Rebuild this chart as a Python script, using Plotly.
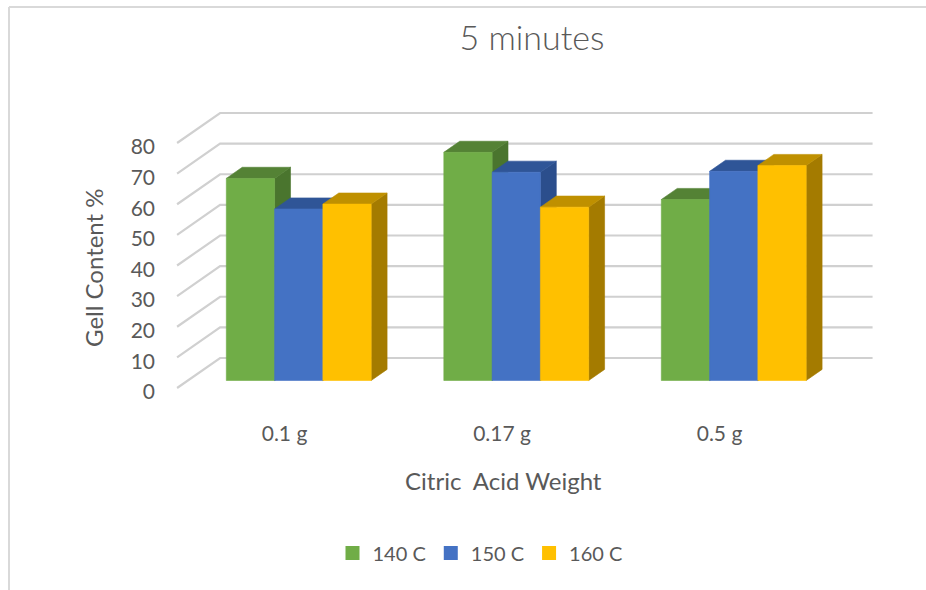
import plotly.graph_objects as go

# ---------------- data ----------------
categories = ["0.1 g", "0.17 g", "0.5 g"]
series_names = ["140 C", "150 C", "160 C"]
gel_140 = [66.0, 74.5, 59.1]
gel_150 = [56.0, 68.0, 68.3]
gel_160 = [57.6, 56.6, 70.2]
y_ticks = [0, 10, 20, 30, 40, 50, 60, 70, 80]

front_colors = ["#70AD47", "#4472C4", "#FFC000"]
top_colors = ["#548235", "#2F5597", "#BF9000"]
side_colors = ["#4A752E", "#2B4E8C", "#A47B00"]
TEXT = "#595959"
FONT = "Lato"

# ---------------- layout geometry ----------------
W, H = 926, 590
ML, MR, MT, MB = 156, 30, 100, 180
X_PX0, X_PX_PER = 288.0, 217.5      # pixel of x=0, pixels per category
Y_PX0, Y_PX_PER = 388.0, 3.0625     # pixel of y=0, pixels per unit
xmin = (ML - X_PX0) / X_PX_PER
xmax = (W - MR - X_PX0) / X_PX_PER
ymax = (Y_PX0 - MT) / Y_PX_PER
ymin = (Y_PX0 - (H - MB)) / Y_PX_PER
PW, PH = W - ML - MR, H - MT - MB


def px_to_paper(px, py):
    return (px - ML) / PW, ((H - MB) - py) / PH


# oblique depth projection (per unit of depth)
DX = 43 / X_PX_PER
DY = 30 / Y_PX_PER
F1, F2 = 0.25, 0.62          # bar front / back depth
BW = 0.222                   # bar width in category units
X_LEFT, X_RIGHT = -0.51, 2.49
LABEL_SHIFT = -0.016         # category labels sit at the front edge

fig = go.Figure()

# walls / gridlines
gx, gy = [], []
for t in y_ticks:
    gx += [X_LEFT, X_LEFT + DX, X_RIGHT + DX, None]
    gy += [t, t + DY, t + DY, None]
fig.add_trace(go.Scatter(x=gx, y=gy, mode="lines",
                         line=dict(color="#D0D0D0", width=2.2),
                         hoverinfo="skip", showlegend=False))


def poly(xs, ys, color):
    fig.add_trace(go.Scatter(x=xs + [xs[0]], y=ys + [ys[0]], fill="toself",
                             fillcolor=color, mode="lines",
                             line=dict(color=color, width=0.6),
                             hoverinfo="skip", showlegend=False))


values = [gel_140, gel_150, gel_160]
d = F2 - F1
for i in range(len(categories)):
    for s in range(len(series_names)):
        v = values[s][i]
        xc = i + (s - 1) * BW
        x0 = xc - BW / 2 + F1 * DX
        x1 = xc + BW / 2 + F1 * DX
        b = F1 * DY
        t = b + v
        # side face
        poly([x1, x1 + d * DX, x1 + d * DX, x1],
             [b, b + d * DY, t + d * DY, t], side_colors[s])
        # top face
        poly([x0, x1, x1 + d * DX, x0 + d * DX],
             [t, t, t + d * DY, t + d * DY], top_colors[s])
        # front face
        poly([x0, x1, x1, x0], [b, b, t, t], front_colors[s])

# legend entries
for s, name in enumerate(series_names):
    fig.add_trace(go.Scatter(x=[None], y=[None], mode="markers", name=name,
                             marker=dict(symbol="square", size=14,
                                         color=front_colors[s])))

ax_title_y = px_to_paper(93, 268)
ax_title_x = px_to_paper(503.5, 480)
c_tl = px_to_paper(9, 7)
c_tr = px_to_paper(W + 10, 7)
c_bl = px_to_paper(9, H + 10)

fig.update_layout(
    width=W, height=H,
    margin=dict(l=ML, r=MR, t=MT, b=MB, pad=0),
    paper_bgcolor="white", plot_bgcolor="rgba(0,0,0,0)",
    font=dict(family=FONT, color=TEXT, size=20),
    title=dict(text="5 minutes", xref="container", yref="container",
               x=532 / W, y=1 - 38 / H, xanchor="center", yanchor="middle",
               font=dict(family=FONT, size=34, color=TEXT, weight=300)),
    xaxis=dict(range=[xmin, xmax], tickmode="array",
               tickvals=[k + LABEL_SHIFT for k in range(len(categories))],
               ticktext=categories, showgrid=False, zeroline=False,
               showline=False, ticks="", automargin=False,
               tickfont=dict(size=21, color=TEXT), ticklabelstandoff=9,
               fixedrange=True),
    yaxis=dict(range=[ymin, ymax], tickmode="array", tickvals=y_ticks,
               showgrid=False, zeroline=False, showline=False, ticks="",
               automargin=False, tickfont=dict(size=21, color=TEXT),
               ticklabelshift=4, fixedrange=True),
    legend=dict(orientation="h", xref="container", yref="container",
                x=480 / W, y=1 - 553 / H, xanchor="center", yanchor="middle",
                font=dict(size=20, color=TEXT), itemwidth=30,
                bgcolor="rgba(0,0,0,0)"),
    annotations=[
        dict(text="Gell Content %", xref="paper", yref="paper",
             x=ax_title_y[0], y=ax_title_y[1], showarrow=False, textangle=-90,
             xanchor="center", yanchor="middle",
             font=dict(size=24, color=TEXT, family=FONT)),
        dict(text="Citric\u00a0 Acid Weight", xref="paper", yref="paper",
             x=ax_title_x[0], y=ax_title_x[1], showarrow=False,
             xanchor="center", yanchor="middle",
             font=dict(size=24, color=TEXT, family=FONT)),
    ],
    shapes=[
        dict(type="line", xref="paper", yref="paper",
             x0=c_tl[0], y0=c_tl[1], x1=c_tr[0], y1=c_tr[1],
             line=dict(color="#D9D9D9", width=2), layer="below"),
        dict(type="line", xref="paper", yref="paper",
             x0=c_tl[0], y0=c_tl[1], x1=c_bl[0], y1=c_bl[1],
             line=dict(color="#D9D9D9", width=2), layer="below"),
    ],
)

fig.write_html("out.html", config={"displayModeBar": False},
               post_script="document.body.style.margin='0';"
                           "document.body.style.overflow='hidden';")
